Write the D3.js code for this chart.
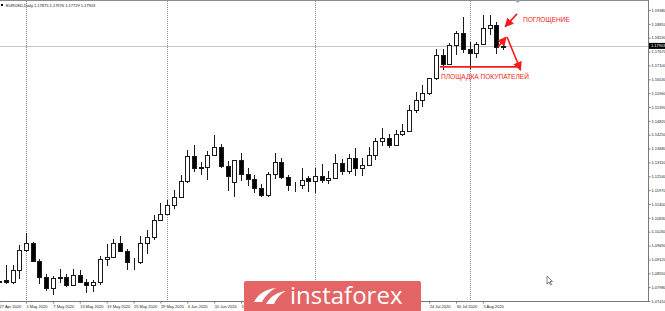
<!DOCTYPE html>
<html>
<head>
<meta charset="utf-8">
<script src="https://cdn.jsdelivr.net/npm/d3@7"></script>
<style>
  body { margin: 0; background: #fff; }
  svg { display: block; font-family: "Liberation Sans", Arial, sans-serif; }
</style>
</head>
<body>
<svg id="chart" width="665" height="311"></svg>
<script>
// daily bars, EURUSD
var dates = ["2020-04-27","2020-04-28","2020-04-29","2020-04-30","2020-05-01",
  "2020-05-04","2020-05-05","2020-05-06","2020-05-07","2020-05-08",
  "2020-05-11","2020-05-12","2020-05-13","2020-05-14","2020-05-15",
  "2020-05-18","2020-05-19","2020-05-20","2020-05-21","2020-05-22",
  "2020-05-25","2020-05-26","2020-05-27","2020-05-28","2020-05-29",
  "2020-06-01","2020-06-02","2020-06-03","2020-06-04","2020-06-05",
  "2020-06-08","2020-06-09","2020-06-10","2020-06-11","2020-06-12",
  "2020-06-15","2020-06-16","2020-06-17","2020-06-18","2020-06-19",
  "2020-06-22","2020-06-23","2020-06-24","2020-06-25","2020-06-26",
  "2020-06-29","2020-06-30","2020-07-01","2020-07-02","2020-07-03",
  "2020-07-06","2020-07-07","2020-07-08","2020-07-09","2020-07-10",
  "2020-07-13","2020-07-14","2020-07-15","2020-07-16","2020-07-17",
  "2020-07-20","2020-07-21","2020-07-22","2020-07-23","2020-07-24",
  "2020-07-27","2020-07-28","2020-07-29","2020-07-30","2020-07-31",
  "2020-08-03","2020-08-04","2020-08-05","2020-08-06","2020-08-07",
  "2020-08-10"];

var open = [1.0820,1.0826,1.0820,1.0869,1.0952, 1.0980,1.0906,1.0838,1.0796,1.0834,
  1.0840,1.0808,1.0848,1.0819,1.0806, 1.0820,1.0914,1.0923,1.0978,1.0948,
  1.0900,1.0902,1.0981,1.1006,1.1076, 1.1100,1.1136,1.1170,1.1236,1.1339,
  1.1290,1.1292,1.1341,1.1373,1.1298, 1.1232,1.1320,1.1264,1.1243,1.1206,
  1.1178,1.1262,1.1311,1.1250,1.1220, 1.1218,1.1245,1.1234,1.1254,1.1240,
  1.1245,1.1310,1.1274,1.1330,1.1288, 1.1300,1.1343,1.1398,1.1410,1.1384,
  1.1428,1.1442,1.1527,1.1568,1.1595, 1.1657,1.1753,1.1716,1.1792,1.1845,
  1.1779,1.1761,1.1800,1.1866,1.1875, 1.17875];
var high = [1.0857,1.0890,1.0888,1.0973,1.1019, 1.0985,1.0913,1.0852,1.0845,1.0874,
  1.0851,1.0871,1.0868,1.0830,1.0829, 1.0925,1.0975,1.0995,1.1008,1.0955,
  1.0916,1.1009,1.1035,1.1093,1.1146, 1.1155,1.1197,1.1258,1.1362,1.1384,
  1.1311,1.1360,1.1422,1.1387,1.1315, 1.1319,1.1350,1.1287,1.1258,1.1224,
  1.1273,1.1349,1.1330,1.1261,1.1230, 1.1290,1.1257,1.1290,1.1303,1.1276,
  1.1345,1.1324,1.1345,1.1371,1.1330, 1.1375,1.1413,1.1452,1.1429,1.1445,
  1.1469,1.1546,1.1601,1.1628,1.1660, 1.1776,1.1779,1.1803,1.1853,1.1909,
  1.1806,1.1807,1.1916,1.1916,1.1889, 1.17976];
var low = [1.0814,1.0811,1.0812,1.0832,1.0943, 1.0903,1.0811,1.0782,1.0766,1.0817,
  1.0797,1.0802,1.0815,1.0774,1.0777, 1.0806,1.0885,1.0919,1.0945,1.0870,
  1.0870,1.0895,1.0934,1.0990,1.1074, 1.1095,1.1118,1.1168,1.1225,1.1271,
  1.1258,1.1240,1.1338,1.1288,1.1194, 1.1168,1.1234,1.1216,1.1185,1.1168,
  1.1169,1.1241,1.1243,1.1192,1.1188, 1.1202,1.1190,1.1186,1.1227,1.1222,
  1.1244,1.1260,1.1262,1.1257,1.1254, 1.1296,1.1320,1.1380,1.1371,1.1380,
  1.1420,1.1439,1.1513,1.1540,1.1587, 1.1651,1.1690,1.1713,1.1754,1.1760,
  1.1696,1.1740,1.1797,1.1835,1.1755, 1.17729];
var close = [1.0824,1.0820,1.0869,1.0952,1.0980, 1.0906,1.0838,1.0796,1.0834,1.0840,
  1.0808,1.0848,1.0819,1.0806,1.0820, 1.0914,1.0923,1.0978,1.0948,1.0900,
  1.0902,1.0981,1.1006,1.1076,1.1100, 1.1136,1.1170,1.1236,1.1339,1.1290,
  1.1292,1.1341,1.1373,1.1298,1.1255, 1.1320,1.1264,1.1243,1.1206,1.1178,
  1.1262,1.1311,1.1250,1.1220,1.1218, 1.1240,1.1234,1.1254,1.1240,1.1245,
  1.1310,1.1274,1.1330,1.1288,1.1300, 1.1343,1.1398,1.1410,1.1384,1.1428,
  1.1442,1.1527,1.1568,1.1595,1.1657, 1.1753,1.1716,1.1792,1.1845,1.1779,
  1.1761,1.1800,1.1866,1.1875,1.1786, 1.17903];

var priceTicks = [1.07410,1.07980,1.08550,1.09120,1.09690,1.10260,1.10830,1.11400,
  1.11970,1.12540,1.13110,1.13680,1.14250,1.14820,1.15390,1.15960,1.16530,1.17100,
  1.17670,1.18240,1.18810,1.19380];
var symbol = "EURUSD,Daily";
var barsPerLabel = 4;

// annotations: bar index / price
var notes = [
  {text: "ПОГЛОЩЕНИЕ", i: 77.95, p: 1.1887},
  {text: "ПЛОЩАДКА ПОКУПАТЕЛЕЙ", i: 65.75, p: 1.1653}
];
var arrows = [
  {i1: 77.07, p1: 1.1922, i2: 75.3, p2: 1.1870, head: true},
  {i1: 74.25, p1: 1.1786, i2: 75.45, p2: 1.1826, head: true},
  {i1: 75.6, p1: 1.1826, i2: 77.6, p2: 1.1691, head: true},
  {i1: 65.6, p1: 1.1704, i2: 77.5, p2: 1.1704, head: false}
];

var svg = d3.select("#chart"),
    plotW = 648, plotB = 301;

// watermark box (the time labels under it are not visible)
var logoX = 244, logoY = 281, logoW = 177;

var x = d3.scaleLinear().domain([0, 96.56]).range([-0.9, plotW]);
var y = d3.scaleLinear().domain([1.0741, 1.1938]).range([plotB, 10]);

var parse = d3.timeParse("%Y-%m-%d"),
    fmt = d3.timeFormat("%-d %b %Y"),
    f5 = d3.format(".5f");

var bars = dates.map(function(d, i) {
  return {i: i, date: parse(d), o: open[i], h: high[i], l: low[i], c: close[i]};
});

// month grid lines (first bar of month)
var monthStarts = bars.filter(function(d, i) {
  return i > 0 && d.date.getMonth() != bars[i - 1].date.getMonth();
});
svg.append("g").selectAll("line")
  .data(monthStarts).enter().append("line")
  .attr("x1", function(d) { return Math.round(x(d.i)) + 0.5; })
  .attr("x2", function(d) { return Math.round(x(d.i)) + 0.5; })
  .attr("y1", 1).attr("y2", plotB)
  .attr("stroke", "#8a8a8a")
  .attr("stroke-dasharray", "1,1");

// current price line
var last = bars[bars.length - 1];
svg.append("line")
  .attr("x1", 0).attr("x2", plotW)
  .attr("y1", Math.round(y(last.c)) + 0.5).attr("y2", Math.round(y(last.c)) + 0.5)
  .attr("stroke", "#c4c4c4");

// candles
var cg = svg.append("g").attr("shape-rendering", "crispEdges");
cg.selectAll("line.wick").data(bars).enter().append("line")
  .attr("class", "wick")
  .attr("x1", function(d) { return Math.round(x(d.i)) + 0.5; })
  .attr("x2", function(d) { return Math.round(x(d.i)) + 0.5; })
  .attr("y1", function(d) { return Math.round(y(d.h)); })
  .attr("y2", function(d) { return Math.round(y(d.l)); })
  .attr("stroke", "#1a1a1a");

cg.selectAll("rect.body").data(bars).enter().append("rect")
  .attr("class", "body")
  .attr("x", function(d) { return Math.round(x(d.i)) - 1.5; })
  .attr("y", function(d) { return Math.round(y(Math.max(d.o, d.c))) + 0.5; })
  .attr("width", 4)
  .attr("height", function(d) {
    return Math.max(0, Math.round(y(Math.min(d.o, d.c))) - Math.round(y(Math.max(d.o, d.c))));
  })
  .attr("fill", function(d) { return d.c < d.o ? "#000" : "#fff"; })
  .attr("stroke", "#1a1a1a");

// borders
svg.append("line").attr("x1", 0).attr("x2", plotW).attr("y1", 0.5).attr("y2", 0.5).attr("stroke", "#8c8c8c");
svg.append("line").attr("x1", 0).attr("x2", plotW + 0.5).attr("y1", plotB + 0.5).attr("y2", plotB + 0.5).attr("stroke", "#7a7a7a");
svg.append("line").attr("x1", plotW + 0.5).attr("x2", plotW + 0.5).attr("y1", 0).attr("y2", plotB + 1).attr("stroke", "#7a7a7a");

// chart shift marker
svg.append("path")
  .attr("d", "M" + (x(77.2) - 3) + ",0 L" + (x(77.2) + 3) + ",0 L" + x(77.2) + ",3 Z")
  .attr("fill", "#a0a0a0");

// price axis
var yAxis = d3.axisRight(y).tickValues(priceTicks).tickFormat(f5).tickSize(2).tickPadding(1);
var ya = svg.append("g").attr("transform", "translate(" + (plotW + 0.5) + ",0)").call(yAxis);
ya.select(".domain").remove();
ya.selectAll("line").attr("stroke", "#7a7a7a");
ya.selectAll("text").attr("font-size", 4).attr("fill", "#222").attr("font-family", "Liberation Sans, Arial");

// last price box
var lp = svg.append("g").attr("transform", "translate(" + (plotW + 1) + "," + y(last.c) + ")");
lp.append("rect").attr("x", 0).attr("y", -3).attr("width", 17).attr("height", 6).attr("fill", "#000");
lp.append("text").attr("x", 2).attr("dy", "0.35em").attr("font-size", 4).attr("fill", "#fff").text(f5(last.c));

// time axis
var labelIdx = d3.range(0, bars.length, barsPerLabel).filter(function(i) {
  return x(i) < logoX || x(i) > logoX + logoW;
});
var xAxis = d3.axisBottom(x).tickValues(labelIdx)
  .tickFormat(function(i) { return fmt(bars[i].date); })
  .tickSize(2).tickPadding(1.5);
var xa = svg.append("g").attr("transform", "translate(0," + (plotB + 0.5) + ")").call(xAxis);
xa.select(".domain").remove();
xa.selectAll("line").attr("stroke", "#7a7a7a");
xa.selectAll("text").attr("text-anchor", "start").attr("x", 0)
  .attr("font-size", 4).attr("fill", "#222").attr("font-family", "Liberation Sans, Arial");

// header
svg.append("rect").attr("x", 1).attr("y", 4).attr("width", 2).attr("height", 2).attr("fill", "#000");
svg.append("text").attr("x", 6).attr("y", 6.6).attr("font-size", 4).attr("fill", "#111")
  .text(symbol + " " + [last.o, last.h, last.l, last.c].map(f5).join(" "));

// annotations
var red = "#f41c1c";
var defs = svg.append("defs");
defs.append("marker").attr("id", "head")
  .attr("viewBox", "0 0 10 10").attr("refX", 9).attr("refY", 5)
  .attr("markerWidth", 9).attr("markerHeight", 9)
  .attr("markerUnits", "userSpaceOnUse").attr("orient", "auto")
  .append("path").attr("d", "M0,0 L10,5 L0,10 Z").attr("fill", red);

svg.append("g").selectAll("line").data(arrows).enter().append("line")
  .attr("x1", function(d) { return x(d.i1); })
  .attr("y1", function(d) { return y(d.p1); })
  .attr("x2", function(d) { return x(d.i2); })
  .attr("y2", function(d) { return y(d.p2); })
  .attr("stroke", red).attr("stroke-width", 1.6)
  .attr("marker-end", function(d) { return d.head ? "url(#head)" : null; });

svg.append("g").selectAll("text").data(notes).enter().append("text")
  .attr("x", function(d) { return x(d.i); })
  .attr("y", function(d) { return y(d.p); })
  .attr("font-size", 6.6).attr("fill", red)
  .text(function(d) { return d.text; });

// cursor
svg.append("path")
  .attr("d", "M547,276 L547,284 L549,282 L550.5,285 L551.5,284.5 L550,281.5 L552.5,281.5 Z")
  .attr("fill", "#fff").attr("stroke", "#333").attr("stroke-width", 0.6);

// watermark logo
var logo = svg.append("g");
logo.append("rect").attr("x", logoX).attr("y", logoY).attr("width", logoW).attr("height", 32).attr("rx", 2)
  .attr("fill", "#e36565");
logo.append("path")
  .attr("d", "M254,302 C258,294 266,289 276,288 C270,291 265,296 262,302 Z M266,304 C270,297 277,292 286,291 C280,294 276,299 274,304 Z")
  .attr("fill", "#fff");
logo.append("text").attr("x", 290).attr("y", 304)
  .attr("font-family", "Open Sans, sans-serif").attr("font-size", 24).attr("fill", "#fff")
  .text("instaforex");
</script>
</body>
</html>
